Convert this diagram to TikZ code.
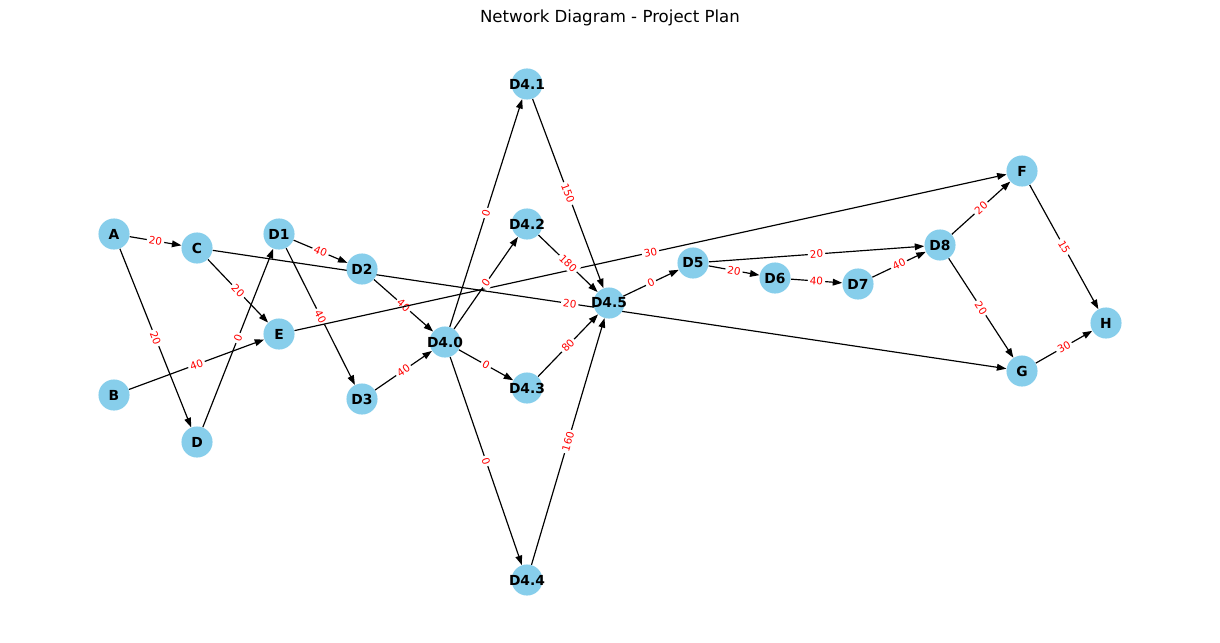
\documentclass[tikz,border=0pt]{standalone}
\usepackage{fontspec}
\setmainfont{DejaVu Sans}
\usetikzlibrary{arrows.meta,backgrounds}
\definecolor{skyblue}{HTML}{87CEEB}

\begin{document}
\begin{tikzpicture}[x=0.254mm,y=-0.254mm,
	task/.style={circle,fill=skyblue,minimum size=7.9mm,inner sep=-4pt,font=\bfseries\fontsize{10}{12}\selectfont},
	dep/.style={-{Triangle[length=2.4mm,width=1.7mm]},line width=0.85pt},
	dur/.style={sloped,fill=white,inner sep=1.5pt,text=red,font=\fontsize{7.5}{9}\selectfont}]
	\useasboundingbox (0,0) rectangle (1220,642);
	\path (610,18) node [font=\fontsize{12}{14}\selectfont] (title) {Network Diagram - Project Plan};
	\node[task] (A) at (114,234) {A};
	\node[task] (B) at (114,395) {B};
	\node[task] (C) at (197,248) {C};
	\node[task] (D) at (197,442) {D};
	\node[task] (E) at (279,334) {E};
	\node[task] (D1) at (279,234) {D1};
	\node[task] (D2) at (362,269) {D2};
	\node[task] (D3) at (362,399) {D3};
	\node[task] (D40) at (445,342) {D4.0};
	\node[task] (D41) at (527,84) {D4.1};
	\node[task] (D42) at (527,224) {D4.2};
	\node[task] (D43) at (527,388) {D4.3};
	\node[task] (D44) at (527,580) {D4.4};
	\node[task] (D45) at (609,303) {D4.5};
	\node[task] (D5) at (693,263) {D5};
	\node[task] (D6) at (775,278) {D6};
	\node[task] (D7) at (858,284) {D7};
	\node[task] (D8) at (940,245) {D8};
	\node[task] (F) at (1022,171) {F};
	\node[task] (G) at (1022,371) {G};
	\node[task] (H) at (1106,323) {H};
	\begin{scope}[on background layer]
	\draw[dep] (A) -- node[dur] {20} (C);
	\draw[dep] (A) -- node[dur] {20} (D);
	\draw[dep] (B) -- node[dur] {40} (E);
	\draw[dep] (C) -- node[dur] {20} (E);
	\draw[dep] (C) -- node[dur,pos=0.45] {20} (G);
	\draw[dep] (D) -- node[dur] {0} (D1);
	\draw[dep] (D1) -- node[dur] {40} (D2);
	\draw[dep] (D1) -- node[dur] {40} (D3);
	\draw[dep] (D2) -- node[dur] {40} (D40);
	\draw[dep] (D3) -- node[dur] {40} (D40);
	\draw[dep] (E) -- node[dur] {30} (F);
	\draw[dep] (D40) -- node[dur] {0} (D41);
	\draw[dep] (D40) -- node[dur] {0} (D42);
	\draw[dep] (D40) -- node[dur] {0} (D43);
	\draw[dep] (D40) -- node[dur] {0} (D44);
	\draw[dep] (D41) -- node[dur] {150} (D45);
	\draw[dep] (D42) -- node[dur] {180} (D45);
	\draw[dep] (D43) -- node[dur] {80} (D45);
	\draw[dep] (D44) -- node[dur] {160} (D45);
	\draw[dep] (D45) -- node[dur] {0} (D5);
	\draw[dep] (D5) -- node[dur] {20} (D6);
	\draw[dep] (D5) -- node[dur] {20} (D8);
	\draw[dep] (D6) -- node[dur] {40} (D7);
	\draw[dep] (D7) -- node[dur] {40} (D8);
	\draw[dep] (D8) -- node[dur] {20} (F);
	\draw[dep] (D8) -- node[dur] {20} (G);
	\draw[dep] (F) -- node[dur] {15} (H);
	\draw[dep] (G) -- node[dur] {30} (H);
	\end{scope}
\end{tikzpicture}
\end{document}
